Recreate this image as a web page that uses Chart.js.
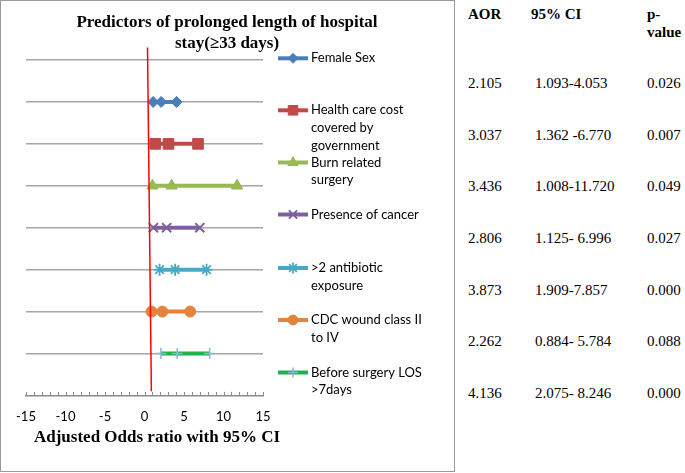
<!DOCTYPE html>
<html><head><meta charset="utf-8">
<script src="https://cdn.jsdelivr.net/npm/chart.js@4.4.0/dist/chart.umd.min.js"></script>
<style>
html,body{margin:0;padding:0;background:#fff;width:685px;height:473px;overflow:hidden;}
#panel{position:absolute;left:0;top:0;width:455px;height:473px;}
#frame{position:absolute;left:0;top:0;width:455px;height:472px;box-sizing:border-box;border:1.5px solid #9a9a9a;pointer-events:none;}
.cell{position:absolute;font-family:"Liberation Serif","Times New Roman",serif;font-size:15px;color:#000;line-height:17px;white-space:nowrap;transform:translateY(-50%);}
.hdr{font-weight:bold;}
</style></head><body>
<div id="panel"><canvas id="c"></canvas></div>
<div id="frame"></div>
<div id="table"></div>
<script>
// ---- data ----
const categories = ["Female Sex","Health care cost covered by government","Burn related surgery","Presence of cancer",">2 antibiotic exposure","CDC wound class II to IV","Before surgery LOS >7days"];
const legendLines = [["Female Sex"],["Health care cost","covered by","government"],["Burn related","surgery"],["Presence of cancer"],[">2 antibiotic","exposure"],["CDC wound class II","to IV"],["Before surgery LOS",">7days"]];
const rowPosition = [7, 6, 5, 4, 3, 2, 1];
const lowerCI = [1.093, 1.362, 1.008, 1.125, 1.909, 0.884, 2.075];
const aor = [2.105, 3.037, 3.436, 2.806, 3.873, 2.262, 4.136];
const upperCI = [4.053, 6.770, 11.720, 6.996, 7.857, 5.784, 8.246];
const refLineX = [0.38, 0.87];
const refLineY = [8.3, 0.1];
const chartTitle = ["Predictors of prolonged length of hospital", "stay(\u226533 days)"];
const xAxisTitle = "Adjusted Odds ratio with 95% CI";
const tableHeaders = ["AOR", "95% CI", ["p-", "value"]];
const aorLabels = ["2.105","3.037","3.436","2.806","3.873","2.262","4.136"];
const ciLabels = ["1.093-4.053","1.362 -6.770","1.008-11.720","1.125- 6.996","1.909-7.857","0.884- 5.784","2.075- 8.246"];
const pValues = ["0.026","0.007","0.049","0.027","0.000","0.088","0.000"];

// ---- styles ----
const lineColors = ["#4A7EBB","#BE4B48","#98B954","#7D60A0","#46AAC5","#E2843E","#1CB24E"];
const markerColors = ["#4A7EBB","#BE4B48","#98B954","#7D60A0","#46AAC5","#E2843E","#8EB4DA"];
const pointStyles = ["rectRot","rect","triangle","crossRot","star","circle","cross"];
const pointRadii = [5.5, 7.5, 6.5, 6.5, 6, 5.5, 5.5];
const pointBorderWidths = [1, 1, 1, 2, 1.8, 1, 1.5];
const legendY = [58.3, 110.3, 162.5, 214.5, 268, 320, 372.5];
const legendLineH = 17.7;

const datasets = categories.map((name, i) => ({
  label: name,
  data: [lowerCI[i], aor[i], upperCI[i]].map(x => ({x: x, y: rowPosition[i]})),
  showLine: true,
  borderColor: lineColors[i],
  borderWidth: 4,
  pointStyle: pointStyles[i],
  pointRadius: pointRadii[i],
  pointHoverRadius: pointRadii[i],
  pointBackgroundColor: markerColors[i],
  pointBorderColor: markerColors[i],
  pointBorderWidth: pointBorderWidths[i],
  order: 1
}));
datasets.push({
  label: "reference",
  data: refLineX.map((x, k) => ({x: x, y: refLineY[k]})),
  showLine: true,
  borderColor: "#FF0000",
  borderWidth: 1.5,
  pointRadius: 0,
  clip: false,
  order: -1
});

const extras = {
  id: "extras",
  afterDraw(chart) {
    const ctx = chart.ctx;
    const xs = chart.scales.x;
    const y0 = chart.scales.y.getPixelForValue(0);
    ctx.save();
    // inward minor tick marks
    ctx.strokeStyle = "#8a8a8a";
    ctx.lineWidth = 1;
    xs.ticks.forEach(t => {
      const px = Math.round(xs.getPixelForValue(t.value)) + 0.5;
      ctx.beginPath(); ctx.moveTo(px, y0); ctx.lineTo(px, y0 - 3.5); ctx.stroke();
    });
    // chart title
    ctx.fillStyle = "#000";
    ctx.font = 'bold 17px "Liberation Serif"';
    ctx.textAlign = "center";
    ctx.textBaseline = "middle";
    chartTitle.forEach((t, k) => ctx.fillText(t, 227, 23 + k * 20.4));
    // axis title
    ctx.fillText(xAxisTitle, 157, 438);
    // legend
    const H = Chart.helpers;
    categories.forEach((name, i) => {
      const y = legendY[i];
      ctx.strokeStyle = lineColors[i];
      ctx.lineWidth = 4;
      ctx.beginPath(); ctx.moveTo(278, y); ctx.lineTo(308, y); ctx.stroke();
      ctx.fillStyle = markerColors[i];
      ctx.strokeStyle = markerColors[i];
      ctx.lineWidth = pointBorderWidths[i];
      H.drawPoint(ctx, {pointStyle: pointStyles[i], radius: pointRadii[i] * 0.9, rotation: 0, borderWidth: pointBorderWidths[i]}, 293, y);
      ctx.fillStyle = "#000";
      ctx.font = '13px Lato';
      ctx.textAlign = "left";
      ctx.textBaseline = "middle";
      legendLines[i].forEach((ln, k) => ctx.fillText(ln, 311, y + k * legendLineH));
    });
    ctx.restore();
  }
};

new Chart(document.getElementById("c"), {
  type: "scatter",
  data: { datasets: datasets },
  options: {
    responsive: true,
    maintainAspectRatio: false,
    animation: false,
    devicePixelRatio: 1,
    layout: { padding: { left: 26, right: 192, top: 60, bottom: 34 } },
    plugins: {
      legend: { display: false },
      tooltip: { enabled: false },
      title: { display: false }
    },
    scales: {
      x: {
        type: "linear", min: -15, max: 15,
        ticks: {
          stepSize: 1, autoSkip: false, maxRotation: 0, padding: 14, color: "#000",
          font: { family: "Lato", size: 13 },
          callback: v => (v % 5 === 0 ? String(v) : "")
        },
        grid: { display: true, drawOnChartArea: false, drawTicks: false },
        border: { display: true, color: "#8a8a8a", width: 1.5 }
      },
      y: {
        type: "linear", min: 0, max: 8,
        ticks: { display: false, stepSize: 1 },
        grid: { color: c => (c.tick.value === 0 ? "rgba(0,0,0,0)" : "#a6a6a6"), lineWidth: 1.5, drawTicks: false },
        border: { display: false }
      }
    }
  },
  plugins: [extras]
});

// ---- table ----
const table = document.getElementById("table");
function cell(text, x, y, bold) {
  const d = document.createElement("div");
  d.className = "cell" + (bold ? " hdr" : "");
  d.textContent = text;
  d.style.left = x + "px";
  d.style.top = y + "px";
  table.appendChild(d);
}
const colX = [468, 535, 647];
const hdrX = [468, 531, 647];
cell(tableHeaders[0], hdrX[0], 14, true);
cell(tableHeaders[1], hdrX[1], 14, true);
tableHeaders[2].forEach((t, k) => cell(t, hdrX[2], 14 + k * 17.5, true));
aorLabels.forEach((t, i) => {
  const y = 83 + i * 51.65;
  cell(t, colX[0], y, false);
  cell(ciLabels[i], colX[1], y, false);
  cell(pValues[i], colX[2], y, false);
});
</script>
</body></html>
